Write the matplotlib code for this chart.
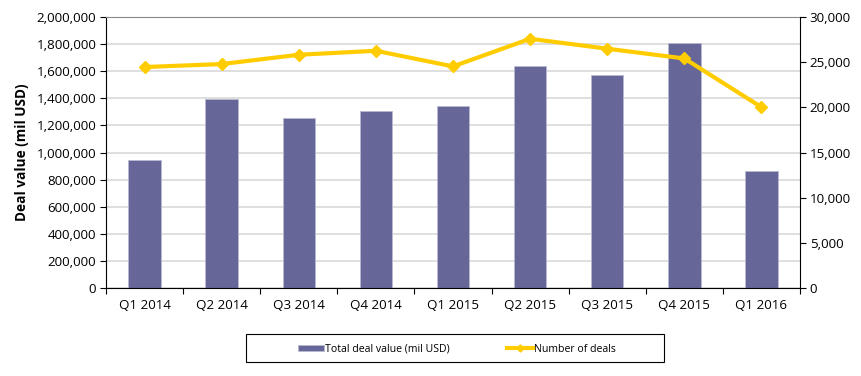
import numpy as np
import matplotlib.pyplot as plt
from matplotlib.ticker import FuncFormatter
from matplotlib.patches import Rectangle

plt.rcParams['font.family'] = ['Open Sans', 'DejaVu Sans']

quarters = ["Q1 2014", "Q2 2014", "Q3 2014", "Q4 2014", "Q1 2015",
            "Q2 2015", "Q3 2015", "Q4 2015", "Q1 2016"]
deal_value = [943000, 1394000, 1254000, 1305000, 1340000,
              1635000, 1571000, 1808000, 864000]
num_deals = [24460, 24790, 25820, 26260, 24530,
             27590, 26490, 25410, 20020]

bar_col = '#666699'
line_col = '#FFCC00'

fig = plt.figure(figsize=(8.61, 3.76), dpi=100)
ax = fig.add_axes([106 / 861, 1 - 288 / 376, (800 - 106) / 861, (288 - 17) / 376])
ax2 = ax.twinx()

x = np.arange(len(quarters))
b = ax.bar(x, deal_value, width=0.42, color=bar_col, edgecolor='#B8B8D0', linewidth=0.6,
           label="Total deal value (mil USD)", zorder=2)
l, = ax2.plot(x, num_deals, color=line_col, lw=3, marker='D', ms=6,
              label="Number of deals", zorder=3)

ax.set_xlim(-0.5, len(quarters) - 0.5)
ax.set_ylim(0, 2000000)
ax.set_yticks(np.arange(0, 2000001, 200000))
ax2.set_ylim(0, 30000)
ax2.set_yticks(np.arange(0, 30001, 5000))
fmt = FuncFormatter(lambda v, p: f"{int(v):,}")
ax.yaxis.set_major_formatter(fmt)
ax2.yaxis.set_major_formatter(fmt)

ax.set_xticks(x)
ax.set_xticklabels(quarters)
ax.set_xticks(np.arange(-0.5, len(quarters), 1), minor=True)
ax.tick_params(axis='x', which='major', length=0, pad=8, labelsize=9.6)
ax.tick_params(axis='x', which='minor', length=4, direction='out', width=0.8)
ax.tick_params(axis='y', length=4, width=0.8, labelsize=9.6, pad=3)
ax2.tick_params(axis='y', length=4, width=0.8, labelsize=9.6, pad=3)

ax.grid(axis='y', color='#D9D9D9', lw=1.2, zorder=0)
ax.set_axisbelow(True)
ax.spines['top'].set_color('#888888')
for s in ['top', 'right', 'left', 'bottom']:
    ax2.spines[s].set_visible(False)
ax.spines['right'].set_visible(False)
ax2.spines['right'].set_visible(True)
ax2.spines['right'].set_color('black')
ax.spines['left'].set_color('black')
ax.spines['bottom'].set_color('black')

ax.set_ylabel("Deal value (mil USD)", fontsize=9.8, fontweight='bold', labelpad=5)

# legend box drawn by hand, legend itself without frame
fig.patches.append(Rectangle((246 / 861, 1 - 362 / 376), (664 - 246) / 861, 28 / 376,
                             transform=fig.transFigure, fill=False,
                             edgecolor='black', lw=0.8))
leg = fig.legend([b, l], ["Total deal value (mil USD)", "Number of deals"],
                 loc='center', bbox_to_anchor=(457 / 861, 1 - 349 / 376), ncol=2,
                 fontsize=7.6, frameon=False, markerscale=0.6,
                 columnspacing=5.4, handlelength=2.5, handleheight=0.5,
                 handletextpad=0.1)

fig.savefig("out.png", dpi=100)
